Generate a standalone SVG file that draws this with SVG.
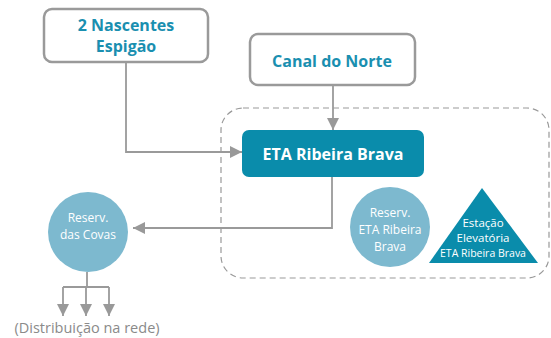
<svg xmlns="http://www.w3.org/2000/svg" width="551" height="338" viewBox="0 0 551 338">
<defs>
<marker id="ah" markerWidth="12" markerHeight="12" viewBox="0 0 12 12" refX="12" refY="6" orient="auto" markerUnits="userSpaceOnUse">
<path d="M0,0 L12,6 L0,12 z" fill="#999"/>
</marker>
<style>
.src{fill:#fff;stroke:#9a9a9a;stroke-width:2.5}
.st{font-family:"Open Sans",Lato,sans-serif;font-weight:bold;font-size:16px;fill:#1a8fb0;text-anchor:middle}
.wt{font-family:"Open Sans",Lato,sans-serif;fill:#fff;text-anchor:middle}
.ln{fill:none;stroke:#9a9a9a;stroke-width:1.8}
</style>
</defs>
<rect x="221" y="108" width="328" height="170" rx="22" fill="none" stroke="#999" stroke-width="1.2" stroke-dasharray="6,4"/>
<g id="connectors">
<path class="ln" d="M126,62 V152 H242" marker-end="url(#ah)"/>
<path class="ln" d="M333,85 V130" marker-end="url(#ah)"/>
<path class="ln" d="M332,177 V228 H133" marker-end="url(#ah)"/>
<path class="ln" d="M87,272 V287 M63,287 H109"/>
<path class="ln" d="M63,287 V316" marker-end="url(#ah)"/>
<path class="ln" d="M86,287 V316" marker-end="url(#ah)"/>
<path class="ln" d="M109,287 V316" marker-end="url(#ah)"/>
</g>
<g id="nascentes">
<rect class="src" x="44" y="9" width="164" height="53" rx="8"/>
<text class="st" x="126" y="31">2 Nascentes</text>
<text class="st" x="126" y="52">Espigão</text>
</g>
<g id="canal">
<rect class="src" x="250" y="34" width="165" height="51" rx="8"/>
<text class="st" x="332" y="67">Canal do Norte</text>
</g>
<g id="eta">
<rect x="242" y="130" width="182" height="47" rx="7" fill="#0a8cab"/>
<text class="wt" x="333" y="160" font-size="16" font-weight="bold">ETA Ribeira Brava</text>
</g>
<g id="covas">
<circle cx="88" cy="232" r="40" fill="#7db9cf"/>
<text class="wt" x="88" y="222" font-size="12">Reserv.</text>
<text class="wt" x="88" y="239" font-size="12">das Covas</text>
</g>
<g id="reserv-eta">
<circle cx="390" cy="227" r="40" fill="#7db9cf"/>
<text class="wt" x="390" y="217" font-size="12">Reserv.</text>
<text class="wt" x="390" y="234" font-size="12">ETA Ribeira</text>
<text class="wt" x="390" y="251" font-size="12">Brava</text>
</g>
<g id="estacao">
<polygon points="482,188 429,263 538,263" fill="#0a8cab"/>
<text class="wt" x="483" y="227" font-size="11.5">Estação</text>
<text class="wt" x="483" y="242" font-size="11.5">Elevatória</text>
<text class="wt" x="483" y="257" font-size="10.5">ETA Ribeira Brava</text>
</g>
<text x="87" y="333" font-family="'Open Sans',Lato,sans-serif" font-size="14.5" fill="#8a8a8a" text-anchor="middle">(Distribuição na rede)</text>
</svg>
